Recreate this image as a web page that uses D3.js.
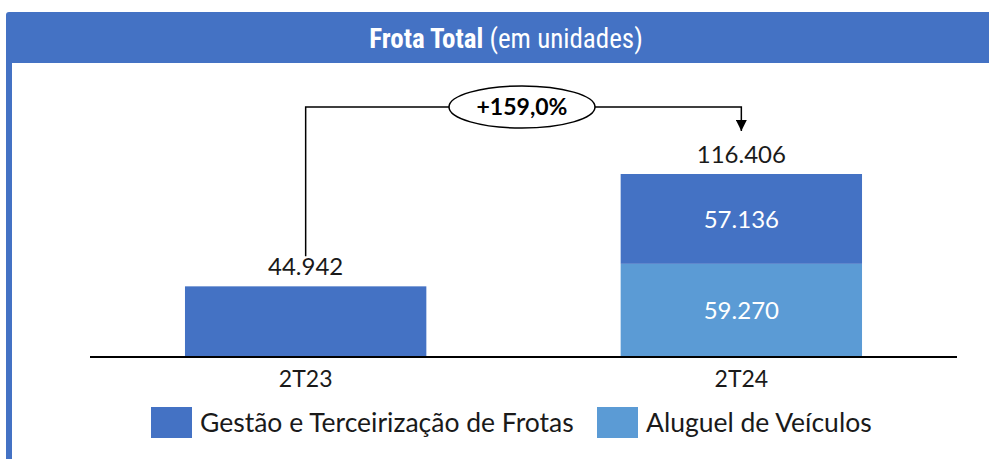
<!DOCTYPE html>
<html>
<head>
<meta charset="utf-8">
<script src="https://cdn.jsdelivr.net/npm/d3@7"></script>
<style>
	body { margin: 0; background: #fff; }
	svg { display: block; }
</style>
</head>
<body>
<div id="main-view"></div>
<script>
// chart data
var periods = ["2T23", "2T24"];
var seriesNames = ["Aluguel de Veículos", "Gestão e Terceirização de Frotas"];
var aluguel = [0, 59270];
var gestao = [44942, 57136];
var totals = [44942, 116406];
var growthLabel = "+159,0%";

var width = 989,
	height = 459;
var blue = "#4472C4",
	lightBlue = "#5B9BD5";
var font = "Lato, 'Noto Sans', sans-serif";

var svg = d3.select("#main-view").append("svg")
	.attr("width", width)
	.attr("height", height);

// frame + header
svg.append("rect")
	.attr("x", 6).attr("y", 12)
	.attr("width", width).attr("height", height)
	.attr("rx", 3)
	.attr("fill", blue);
svg.append("rect")
	.attr("x", 12).attr("y", 63)
	.attr("width", width).attr("height", height)
	.attr("fill", "#fff");

var title = svg.append("text")
	.attr("x", 506).attr("y", 48)
	.attr("text-anchor", "middle")
	.attr("fill", "#fff")
	.style("font-family", "'Liberation Sans Narrow', 'Arial Narrow', 'Roboto Condensed', sans-serif")
	.style("font-size", "27px");
title.append("tspan").attr("font-weight", "bold").text("Frota Total");
title.append("tspan").text(" (em unidades)");

// scales
var x = d3.scaleBand()
	.domain(periods)
	.range([90, 957])
	.paddingInner(0.446)
	.paddingOuter(0.218);

var y = d3.scaleLinear()
	.domain([0, d3.max(totals)])
	.range([357, 174]);

var stackData = periods.map(function(p, i) {
	return { period: p, aluguel: aluguel[i], gestao: gestao[i] };
});
var stack = d3.stack().keys(["aluguel", "gestao"])(stackData);
var colors = { aluguel: lightBlue, gestao: blue };

var layers = svg.selectAll(".layer")
	.data(stack)
	.enter().append("g")
	.attr("class", "layer")
	.attr("fill", function(d) { return colors[d.key]; });

layers.selectAll("rect")
	.data(function(d) { return d; })
	.enter().append("rect")
	.attr("x", function(d) { return x(d.data.period); })
	.attr("y", function(d) { return y(d[1]); })
	.attr("width", x.bandwidth())
	.attr("height", function(d) { return y(d[0]) - y(d[1]); });

// values inside stacked bar (2T24 only)
stack.forEach(function(layer) {
	var d = layer[1];
	if (d[1] - d[0] <= 0) return;
	svg.append("text")
		.attr("x", x(d.data.period) + x.bandwidth() / 2)
		.attr("y", (y(d[0]) + y(d[1])) / 2 + 9)
		.attr("text-anchor", "middle")
		.attr("fill", "#fff")
		.style("font-family", font)
		.style("font-size", "24px")
		.text(d3.format(",")(d[1] - d[0]).replace(/,/g, "."));
});

// totals above bars
svg.selectAll(".total")
	.data(periods)
	.enter().append("text")
	.attr("class", "total")
	.attr("x", function(d) { return x(d) + x.bandwidth() / 2; })
	.attr("y", function(d, i) { return y(totals[i]) - 11; })
	.attr("text-anchor", "middle")
	.attr("fill", "#1a1a1a")
	.style("font-family", font)
	.style("font-size", "24px")
	.text(function(d, i) { return d3.format(",")(totals[i]).replace(/,/g, "."); });

// axis
var xAxis = svg.append("g")
	.attr("transform", "translate(0," + y(0) + ")")
	.call(d3.axisBottom(x).tickSize(0).tickPadding(14));
xAxis.select(".domain")
	.attr("d", "M90,0H957")
	.attr("stroke", "#000")
	.attr("stroke-width", 2);
xAxis.selectAll("text")
	.attr("fill", "#1a1a1a")
	.style("font-family", font)
	.style("font-size", "23px");

// growth annotation
var x0 = x(periods[0]) + x.bandwidth() / 2,
	x1 = x(periods[1]) + x.bandwidth() / 2,
	lineY = 107;
var cx = 522;

svg.append("defs").append("marker")
	.attr("id", "arrow")
	.attr("viewBox", "0 0 10 10")
	.attr("refX", 10).attr("refY", 5)
	.attr("markerWidth", 11).attr("markerHeight", 11)
	.attr("markerUnits", "userSpaceOnUse")
	.attr("orient", "auto")
	.append("path")
	.attr("d", "M0,0L10,5L0,10Z")
	.attr("fill", "#000");

svg.append("path")
	.attr("d", "M" + x0 + "," + (y(totals[0]) - 30) + "V" + lineY + "H" + x1 + "V" + (y(totals[1]) - 43))
	.attr("fill", "none")
	.attr("stroke", "#000")
	.attr("stroke-width", 1.5)
	.attr("marker-end", "url(#arrow)");

svg.append("ellipse")
	.attr("cx", cx).attr("cy", lineY)
	.attr("rx", 73).attr("ry", 21)
	.attr("fill", "#fff")
	.attr("stroke", "#000")
	.attr("stroke-width", 1.5);

svg.append("text")
	.attr("x", cx).attr("y", lineY + 8)
	.attr("text-anchor", "middle")
	.attr("fill", "#000")
	.attr("font-weight", "bold")
	.style("font-family", font)
	.style("font-size", "23px")
	.text(growthLabel);

// legend
var legendItems = [
	{ name: seriesNames[1], color: blue, x: 151 },
	{ name: seriesNames[0], color: lightBlue, x: 597 }
];
var legend = svg.selectAll(".legend")
	.data(legendItems)
	.enter().append("g")
	.attr("class", "legend")
	.attr("transform", function(d) { return "translate(" + d.x + ",407)"; });
legend.append("rect")
	.attr("width", 41).attr("height", 31)
	.attr("fill", function(d) { return d.color; });
legend.append("text")
	.attr("x", 49).attr("y", 25)
	.attr("fill", "#1a1a1a")
	.style("font-family", font)
	.style("font-size", "26.5px")
	.text(function(d) { return d.name; });
</script>
</body>
</html>
